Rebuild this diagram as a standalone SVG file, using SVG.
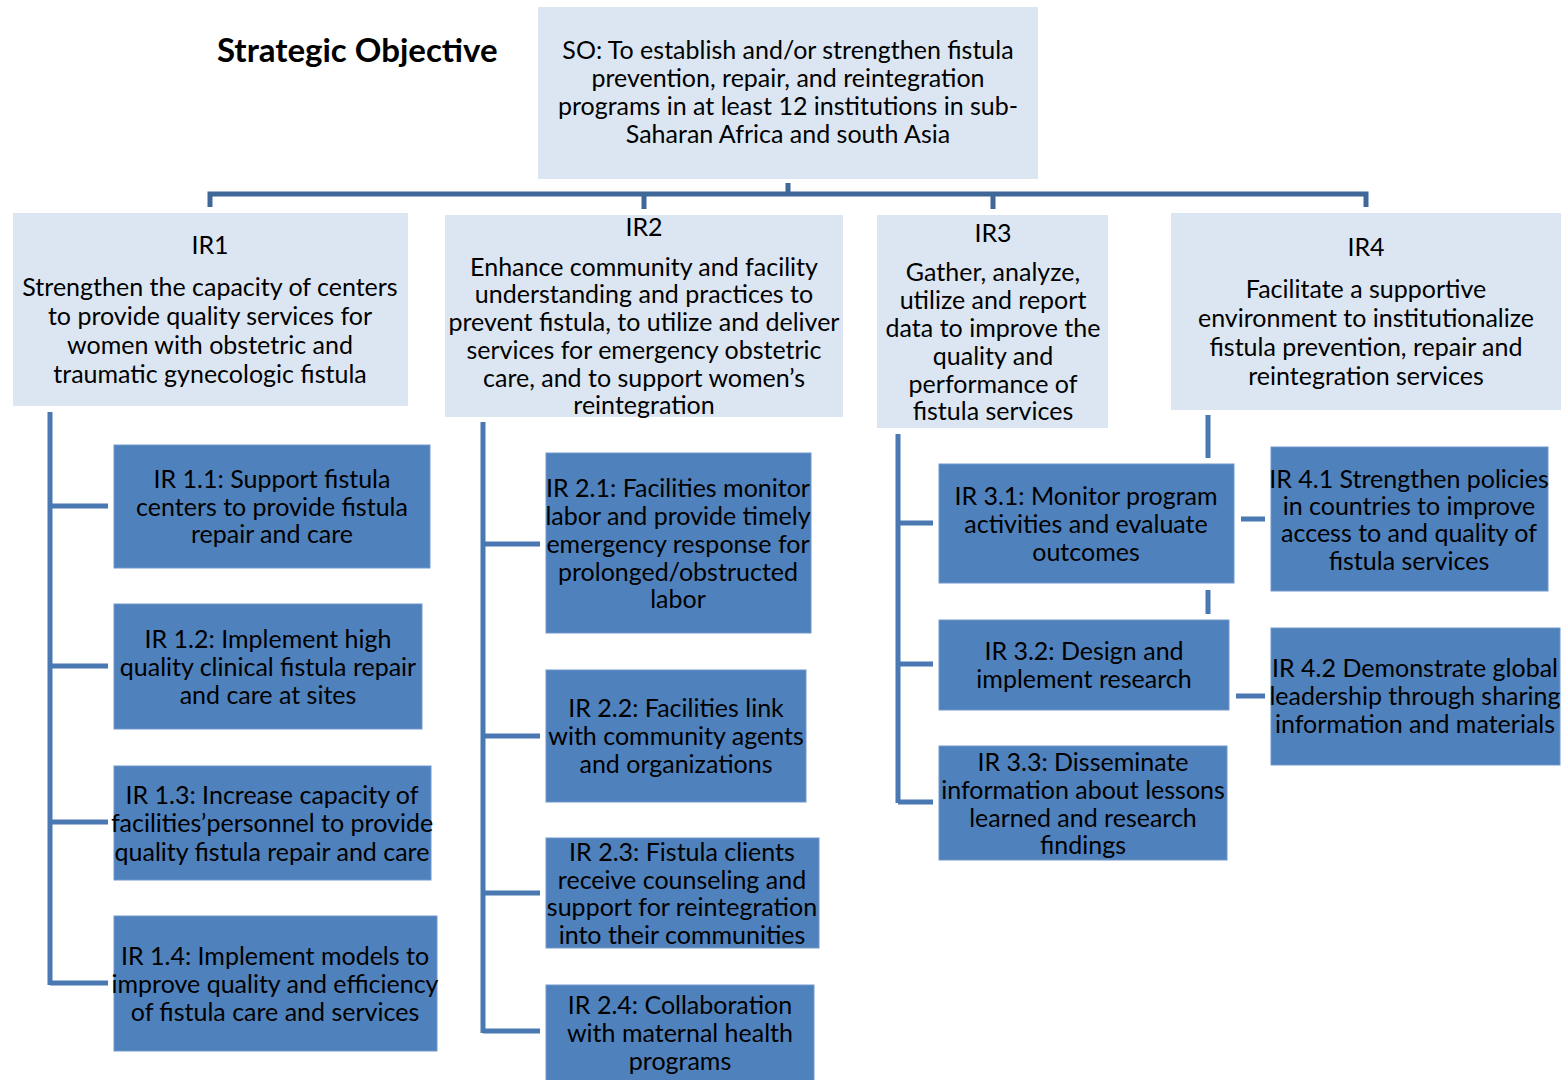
<svg xmlns="http://www.w3.org/2000/svg" width="1564" height="1080" viewBox="0 0 1564 1080">
<style>
  .light { fill: #dce6f2; }
  .dark { fill: #4f81bd; stroke: #7097cb; stroke-width: 1; }
  text { font-family: Lato, "Liberation Sans", sans-serif; font-size: 25px; fill: #000; text-anchor: middle; }
  .title { font-weight: bold; font-size: 33px; text-anchor: start; }
  .top { stroke: #3f6797; stroke-width: 5; fill: none; }
  .sub { stroke: #4a78b2; stroke-width: 5; fill: none; }
</style>
<rect width="1564" height="1080" fill="#ffffff"/>

<g id="title"><text class="title" x="217" y="62">Strategic Objective</text></g>

<g id="connectors">
  <path class="top" d="M788,183 V194 M210,207 V194 H1366 V207 M644,194 V209 M993,194 V209"/>
  <path class="sub" d="M50,412 V985 M50,506 H108 M50,666 H108 M50,822 H108 M50,983 H108"/>
  <path class="sub" d="M483,422 V1033 M483,544 H540 M483,736 H540 M483,893 H540 M483,1031 H540"/>
  <path class="sub" d="M898,434 V803 M898,523 H933 M898,664 H933 M898,802 H933"/>
  <path class="sub" d="M1208,415 V458 M1208,590 V614 M1241,519 H1265 M1236,696 H1265"/>
</g>

<g id="SO">
  <rect class="light" x="538" y="7" width="500" height="172"/>
  <text x="788" y="59">SO: To establish and/or strengthen fistula</text>
  <text x="788" y="87">prevention, repair, and reintegration</text>
  <text x="788" y="115">programs in at least 12 institutions in sub-</text>
  <text x="788" y="143">Saharan Africa and south Asia</text>
</g>

<g id="IR1">
  <rect class="light" x="13" y="213" width="395" height="193"/>
  <text x="210" y="254">IR1</text>
  <text x="210" y="296">Strengthen the capacity of centers</text>
  <text x="210" y="325">to provide quality services for</text>
  <text x="210" y="354">women with obstetric and</text>
  <text x="210" y="383">traumatic gynecologic fistula</text>
</g>

<g id="IR2">
  <rect class="light" x="445" y="215" width="398" height="202"/>
  <text x="644" y="236">IR2</text>
  <text x="644" y="276">Enhance community and facility</text>
  <text x="644" y="303">understanding and practices to</text>
  <text x="644" y="331">prevent fistula, to utilize and deliver</text>
  <text x="644" y="359">services for emergency obstetric</text>
  <text x="644" y="387">care, and to support women’s</text>
  <text x="644" y="414">reintegration</text>
</g>

<g id="IR3">
  <rect class="light" x="877" y="215" width="231" height="213"/>
  <text x="993" y="242">IR3</text>
  <text x="993" y="281">Gather, analyze,</text>
  <text x="993" y="309">utilize and report</text>
  <text x="993" y="337">data to improve the</text>
  <text x="993" y="365">quality and</text>
  <text x="993" y="393">performance of</text>
  <text x="993" y="420">fistula services</text>
</g>

<g id="IR4">
  <rect class="light" x="1171" y="213" width="390" height="197"/>
  <text x="1366" y="256">IR4</text>
  <text x="1366" y="298">Facilitate a supportive</text>
  <text x="1366" y="327">environment to institutionalize</text>
  <text x="1366" y="356">fistula prevention, repair and</text>
  <text x="1366" y="385">reintegration services</text>
</g>

<g id="IR1-1">
  <rect class="dark" x="114" y="445" width="316" height="123"/>
  <text x="272" y="488">IR 1.1: Support fistula</text>
  <text x="272" y="516">centers to provide fistula</text>
  <text x="272" y="543">repair and care</text>
</g>
<g id="IR1-2">
  <rect class="dark" x="114" y="604" width="308" height="125"/>
  <text x="268" y="648">IR 1.2: Implement high</text>
  <text x="268" y="676">quality clinical fistula repair</text>
  <text x="268" y="704">and care at sites</text>
</g>
<g id="IR1-3">
  <rect class="dark" x="114" y="766" width="317" height="114"/>
  <text x="272" y="804">IR 1.3: Increase capacity of</text>
  <text x="272" y="832">facilities’personnel to provide</text>
  <text x="272" y="861">quality fistula repair and care</text>
</g>
<g id="IR1-4">
  <rect class="dark" x="114" y="916" width="323" height="135"/>
  <text x="275" y="965">IR 1.4: Implement models to</text>
  <text x="275" y="993">improve quality and efficiency</text>
  <text x="275" y="1021">of fistula care and services</text>
</g>

<g id="IR2-1">
  <rect class="dark" x="546" y="453" width="265" height="180"/>
  <text x="678" y="497">IR 2.1: Facilities monitor</text>
  <text x="678" y="525">labor and provide timely</text>
  <text x="678" y="553">emergency response for</text>
  <text x="678" y="581">prolonged/obstructed</text>
  <text x="678" y="608">labor</text>
</g>
<g id="IR2-2">
  <rect class="dark" x="546" y="670" width="260" height="132"/>
  <text x="676" y="717">IR 2.2: Facilities link</text>
  <text x="676" y="745">with community agents</text>
  <text x="676" y="773">and organizations</text>
</g>
<g id="IR2-3">
  <rect class="dark" x="546" y="838" width="273" height="110"/>
  <text x="682" y="861">IR 2.3: Fistula clients</text>
  <text x="682" y="889">receive counseling and</text>
  <text x="682" y="916">support for reintegration</text>
  <text x="682" y="944">into their communities</text>
</g>
<g id="IR2-4">
  <rect class="dark" x="546" y="985" width="268" height="96"/>
  <text x="680" y="1014">IR 2.4: Collaboration</text>
  <text x="680" y="1042">with maternal health</text>
  <text x="680" y="1070">programs</text>
</g>

<g id="IR3-1">
  <rect class="dark" x="939" y="464" width="295" height="119"/>
  <text x="1086" y="505">IR 3.1: Monitor program</text>
  <text x="1086" y="533">activities and evaluate</text>
  <text x="1086" y="561">outcomes</text>
</g>
<g id="IR3-2">
  <rect class="dark" x="939" y="620" width="290" height="90"/>
  <text x="1084" y="660">IR 3.2: Design and</text>
  <text x="1084" y="688">implement research</text>
</g>
<g id="IR3-3">
  <rect class="dark" x="939" y="746" width="288" height="114"/>
  <text x="1083" y="771">IR 3.3: Disseminate</text>
  <text x="1083" y="799">information about lessons</text>
  <text x="1083" y="827">learned and research</text>
  <text x="1083" y="854">findings</text>
</g>

<g id="IR4-1">
  <rect class="dark" x="1271" y="447" width="277" height="144"/>
  <text x="1409" y="488">IR 4.1 Strengthen policies</text>
  <text x="1409" y="515">in countries to improve</text>
  <text x="1409" y="542">access to and quality of</text>
  <text x="1409" y="570">fistula services</text>
</g>
<g id="IR4-2">
  <rect class="dark" x="1271" y="628" width="289" height="137"/>
  <text x="1415" y="677">IR 4.2 Demonstrate global</text>
  <text x="1415" y="705">leadership through sharing</text>
  <text x="1415" y="733">information and materials</text>
</g>
</svg>
